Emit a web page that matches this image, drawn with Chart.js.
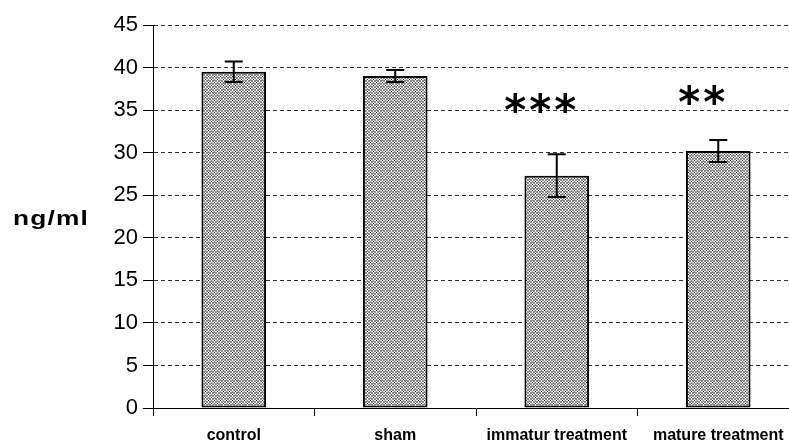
<!DOCTYPE html>
<html>
<head>
<meta charset="utf-8">
<script src="https://cdn.jsdelivr.net/npm/chart.js@4.4.1/dist/chart.umd.min.js"></script>
<style>
html, body { margin: 0; padding: 0; overflow: hidden; background: #fff; }
</style>
</head>
<body>
<canvas id="chart" width="800" height="441"></canvas>
<script>
// data
var categories = ["control", "sham", "immatur treatment", "mature treatment"];
var means = [39.5, 39.0, 27.3, 30.2];
var errors = [1.2, 0.7, 2.5, 1.3];
var stars = ["", "", "***", "**"];
var starLevels = [0, 0, 35.6, 36.5];
var yTitle = "ng/ml";

// dotted fill like the old excel pattern
function makePattern() {
    var c = document.createElement("canvas");
    c.width = 6; c.height = 6;
    var p = c.getContext("2d");
    p.fillStyle = "#8c8c8c";
    p.fillRect(0, 0, 6, 6);
    p.fillStyle = "#ffffff";
    [[1,0],[0,1],[2,1],[1,2],[4,3],[3,4],[5,4],[4,5],[4,0],[1,3]].forEach(function(q) { p.fillRect(q[0], q[1], 1, 1); });
    p.fillStyle = "#d8d8d8";
    [[3,1],[5,1],[0,4],[2,4]].forEach(function(q) { p.fillRect(q[0], q[1], 1, 1); });
    p.fillStyle = "#202020";
    p.fillRect(1, 1, 1, 1);
    p.fillRect(4, 4, 1, 1);
    return p.createPattern(c, "repeat");
}

var extras = {
    id: "extras",
    afterDatasetsDraw: function(chart) {
        var ctx = chart.ctx, x = chart.scales.x, y = chart.scales.y;
        ctx.save();
        ctx.strokeStyle = "#000";
        ctx.lineWidth = 2;
        means.forEach(function(m, i) {
            var cx = x.getPixelForValue(i);
            var top = y.getPixelForValue(m + errors[i]);
            var bot = y.getPixelForValue(m - errors[i]);
            ctx.beginPath();
            ctx.moveTo(cx, top); ctx.lineTo(cx, bot);
            ctx.moveTo(cx - 9, top); ctx.lineTo(cx + 9, top);
            ctx.moveTo(cx - 9, bot); ctx.lineTo(cx + 9, bot);
            ctx.stroke();
        });
        // significance stars
        ctx.fillStyle = "#000";
        ctx.font = "bold 42px 'DejaVu Sans', sans-serif";
        ctx.textAlign = "center";
        ctx.textBaseline = "middle";
        ctx.letterSpacing = "3px";
        stars.forEach(function(s, i) {
            if (!s) return;
            ctx.fillText(s, x.getPixelForValue(i) - 15, y.getPixelForValue(starLevels[i]) + 9);
        });
        ctx.restore();
    },
    afterDraw: function(chart) {
        var ctx = chart.ctx;
        ctx.save();
        ctx.fillStyle = "#000";
        ctx.font = "bold 21px 'Liberation Sans', Arial, sans-serif";
        ctx.textAlign = "center";
        ctx.textBaseline = "middle";
        ctx.letterSpacing = "1px";
        ctx.translate(51, 219);
        ctx.scale(1.25, 1);
        ctx.fillText(yTitle, 0, 0);
        ctx.restore();
    }
};

var ctx = document.getElementById("chart");
var chart = new Chart(ctx, {
    type: "bar",
    data: {
        labels: categories,
        datasets: [{
            data: means,
            backgroundColor: makePattern(),
            borderColor: "#000",
            borderWidth: 2,
            borderSkipped: false,
            categoryPercentage: 1.0,
            barPercentage: 0.4
        }]
    },
    options: {
        responsive: false,
        animation: false,
        layout: { padding: { top: 25, left: 0, right: 1, bottom: 0 } },
        plugins: {
            legend: { display: false },
            tooltip: { enabled: false }
        },
        scales: {
            x: {
                grid: {
                    offset: true,
                    drawOnChartArea: false,
                    drawTicks: true,
                    tickLength: 8,
                    tickColor: "#000",
                    tickWidth: 1
                },
                border: { color: "#000", width: 1 },
                ticks: {
                    color: "#000",
                    padding: 10,
                    maxRotation: 0,
                    font: { family: "'Liberation Sans', Arial, sans-serif", size: 16, weight: "bold" }
                },
                afterFit: function(scale) { scale.height = 33; }
            },
            y: {
                min: 0,
                max: 45,
                ticks: {
                    stepSize: 5,
                    color: "#000",
                    padding: 5,
                    font: { family: "'Liberation Sans', Arial, sans-serif", size: 22 }
                },
                grid: {
                    color: function(c) { return c.tick && c.tick.value === 0 ? "rgba(0,0,0,0)" : "#333"; },
                    lineWidth: 1,
                    drawTicks: true,
                    tickLength: 10,
                    tickColor: "#000",
                    tickBorderDash: []
                },
                border: { color: "#000", width: 1, dash: [4, 3] },
                afterFit: function(scale) { scale.width = 153; }
            }
        }
    },
    plugins: [extras]
});
</script>
</body>
</html>
